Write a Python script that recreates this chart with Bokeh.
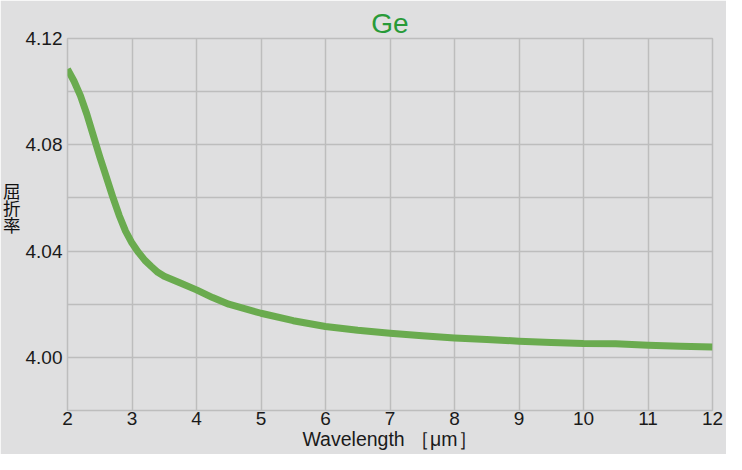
from bokeh.plotting import figure
from bokeh.models import FixedTicker, Range1d, PrintfTickFormatter
from bokeh.embed import file_html
from bokeh.resources import INLINE

# wavelength [um] and refractive index of Ge
wavelength = [2.0, 2.1, 2.2, 2.3, 2.4, 2.5, 2.6, 2.7, 2.8, 2.9, 3.0, 3.1, 3.2, 3.3,
              3.4, 3.5, 3.75, 4.0, 4.25, 4.5, 5.0, 5.5, 6.0, 6.5, 7.0, 7.5, 8.0,
              8.5, 9.0, 9.5, 10.0, 10.5, 11.0, 11.5, 12.0]
index_n = [4.1085, 4.1040, 4.0985, 4.0915, 4.0835, 4.0755, 4.0680, 4.0605, 4.0535,
           4.0475, 4.0430, 4.0395, 4.0365, 4.0342, 4.0320, 4.0305, 4.0280, 4.0254,
           4.0225, 4.0200, 4.0166, 4.0138, 4.0116, 4.0102, 4.0091, 4.0081, 4.0073,
           4.0067, 4.0061, 4.0056, 4.0052, 4.0051, 4.0046, 4.0042, 4.0039]

x_ticks = [2, 3, 4, 5, 6, 7, 8, 9, 10, 11, 12]
y_ticks = [4.00, 4.04, 4.08, 4.12]
y_grid = [3.98, 4.00, 4.02, 4.04, 4.06, 4.08, 4.10, 4.12]

title_text = "Ge"
x_label = "Wavelength \uff3b\u03bcm\uff3d"
y_label = "屈\n折\n率\n\u3000\n\u3000"

BG = "#dfdfe0"
GRID = "#bdbdbd"
TXT = "#1a1a1a"
NUM_FONT = "Liberation Sans"

p = figure(width=726, height=454, output_backend="svg", toolbar_location=None,
           x_range=Range1d(2, 12), y_range=Range1d(3.98, 4.12),
           min_border_left=60, min_border_right=14,
           min_border_top=38, min_border_bottom=44)
p.background_fill_color = BG
p.border_fill_color = BG
p.outline_line_color = GRID
p.outline_line_width = 1.5

p.title.text = title_text
p.title.align = "center"
p.title.text_font = NUM_FONT
p.title.text_font_size = "28px"
p.title.text_font_style = "normal"
p.title.text_color = "#289a38"
p.title.standoff = 0

p.line(wavelength, index_n, line_color="#6aab4f", line_width=7, line_cap="butt",
       line_join="round")

for ax in (p.xaxis[0], p.yaxis[0]):
    ax.axis_line_color = None
    ax.major_tick_line_color = None
    ax.minor_tick_line_color = None
    ax.major_tick_in = 0
    ax.major_tick_out = 0
    ax.minor_tick_in = 0
    ax.minor_tick_out = 0
    ax.major_label_text_font = NUM_FONT
    ax.major_label_text_font_size = "19px"
    ax.major_label_text_color = TXT
    ax.axis_label_text_font_style = "normal"
    ax.axis_label_text_color = TXT

p.xaxis[0].ticker = FixedTicker(ticks=x_ticks)
p.xaxis[0].major_label_standoff = 1
p.xaxis[0].axis_label = x_label
p.xaxis[0].axis_label_text_font = NUM_FONT
p.xaxis[0].axis_label_text_font_size = "19.5px"
p.xaxis[0].axis_label_standoff = 0

p.yaxis[0].ticker = FixedTicker(ticks=y_ticks)
p.yaxis[0].formatter = PrintfTickFormatter(format="%.2f")
p.yaxis[0].major_label_standoff = 5
p.yaxis[0].axis_label = y_label
p.yaxis[0].axis_label_orientation = "horizontal"
p.yaxis[0].axis_label_text_font = "Noto Sans CJK JP"
p.yaxis[0].axis_label_text_font_size = "17.5px"
p.yaxis[0].axis_label_text_line_height = 0.68
p.yaxis[0].axis_label_text_color = "#111111"
p.yaxis[0].axis_label_standoff = 2

p.xgrid[0].ticker = FixedTicker(ticks=x_ticks)
p.ygrid[0].ticker = FixedTicker(ticks=y_grid)
for g in (p.xgrid[0], p.ygrid[0]):
    g.grid_line_color = GRID
    g.grid_line_width = 1.5

open("out.html", "w").write(file_html(p, INLINE))
